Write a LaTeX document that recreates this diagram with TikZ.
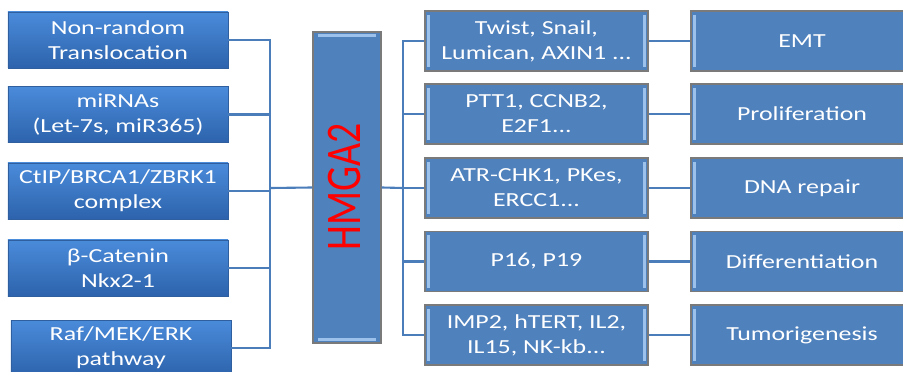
\documentclass[tikz,border=0pt]{standalone}
\usepackage{fontspec}
\setmainfont[FakeStretch=1.3]{Carlito}
\newfontfamily\plainfont{Carlito}
\usetikzlibrary{positioning}
\definecolor{boxblue}{HTML}{4F81BD}
\definecolor{srctop}{HTML}{4A8BDA}
\definecolor{srcbot}{HTML}{2D63AC}
\definecolor{srcedge}{HTML}{2F5F9E}
\definecolor{stripblue}{HTML}{9CC2EC}
\definecolor{edgegray}{HTML}{7A7A7A}
\definecolor{linkblue}{HTML}{4A7DBA}

\begin{document}
\begin{tikzpicture}[x=0.03cm,y=-0.03cm,
  every node/.style={font=\fontsize{17}{21.3}\selectfont,text=white,align=center,inner sep=0pt},
  srcbox/.style={rectangle,draw=srcedge,line width=0.6pt,top color=srctop,bottom color=srcbot,
    minimum width=6.6cm,minimum height=1.68cm},
  sidestrips/.style={path picture={
    \fill[stripblue] ([shift={(2pt,-3pt)}]path picture bounding box.north west) rectangle ([shift={(4.5pt,3pt)}]path picture bounding box.south west);
    \fill[stripblue] ([shift={(-4.5pt,-3pt)}]path picture bounding box.north east) rectangle ([shift={(-2pt,3pt)}]path picture bounding box.south east);}},
  tgtbox/.style={rectangle,draw=edgegray,line width=1.2pt,fill=boxblue,sidestrips,
    minimum width=6.69cm,minimum height=1.8cm},
  effbox/.style={tgtbox,minimum width=6.66cm},
  hubbox/.style={rectangle,draw=edgegray,line width=1.2pt,fill=boxblue,
    minimum width=2.04cm,minimum height=9.33cm,path picture={
    \fill[stripblue] ([shift={(4pt,-2pt)}]path picture bounding box.north west) rectangle ([shift={(-4pt,-4.5pt)}]path picture bounding box.north east);
    \fill[stripblue] ([shift={(4pt,4.5pt)}]path picture bounding box.south west) rectangle ([shift={(-4pt,2pt)}]path picture bounding box.south east);}},
  link/.style={draw=linkblue,line width=1.8pt}]
\useasboundingbox (0,0) rectangle (903,372);
\clip (0,0) rectangle (903,372);

% upstream regulators
\node[srcbox] (src1) at (118,40) {Non-random\\Translocation};
\node[srcbox] (src2) at (118,114.5) {miRNAs\\(Let-7s, miR365)};
\node[srcbox] (src3) at (118,191) {CtIP/BRCA1/ZBRK1\\complex};
\node[srcbox] (src4) at (118,268) {β-Catenin\\Nkx2-1};
\node[srcbox] (src5) at (121,348) {Raf/MEK/ERK\\pathway};

% hub
\node[hubbox] (hmga) at (347,187.5) {};
\node[text=red] (hmgalbl) at (345,187) {\rotatebox{90}{\scalebox{1}[1.25]{\plainfont\fontsize{34}{34}\selectfont HMGA2}}};

% targets and effects
\node[tgtbox] (tgt1) at (536.5,41) {Twist, Snail,\\Lumican, AXIN1 ...};
\node[tgtbox] (tgt2) at (536.5,114) {PTT1, CCNB2,\\E2F1...};
\node[tgtbox] (tgt3) at (536.5,188) {ATR-CHK1, PKes,\\ERCC1...};
\node[tgtbox] (tgt4) at (536.5,261.5) {P16, P19};
\node[tgtbox] (tgt5) at (536.5,335) {IMP2, hTERT, IL2,\\IL15, NK-kb...};
\node[effbox] (eff1) at (802,41) {EMT};
\node[effbox] (eff2) at (802,114) {Proliferation};
\node[effbox] (eff3) at (802,188) {DNA repair};
\node[effbox] (eff4) at (802,261.5) {Differentiation};
\node[effbox] (eff5) at (802,335) {Tumorigenesis};

\coordinate (lbus) at (270,188);
\coordinate (rbus) at (403,188);
\foreach \i in {1,...,5}{
  \draw[link] (src\i.east) -| (lbus);
  \draw[link] (rbus) |- (tgt\i.west);
  \draw[link] (tgt\i) -- (eff\i);
}
\draw[link] (lbus) -- (hmga.west);
\draw[link] (hmga.east) -- (rbus);
\end{tikzpicture}
\end{document}
